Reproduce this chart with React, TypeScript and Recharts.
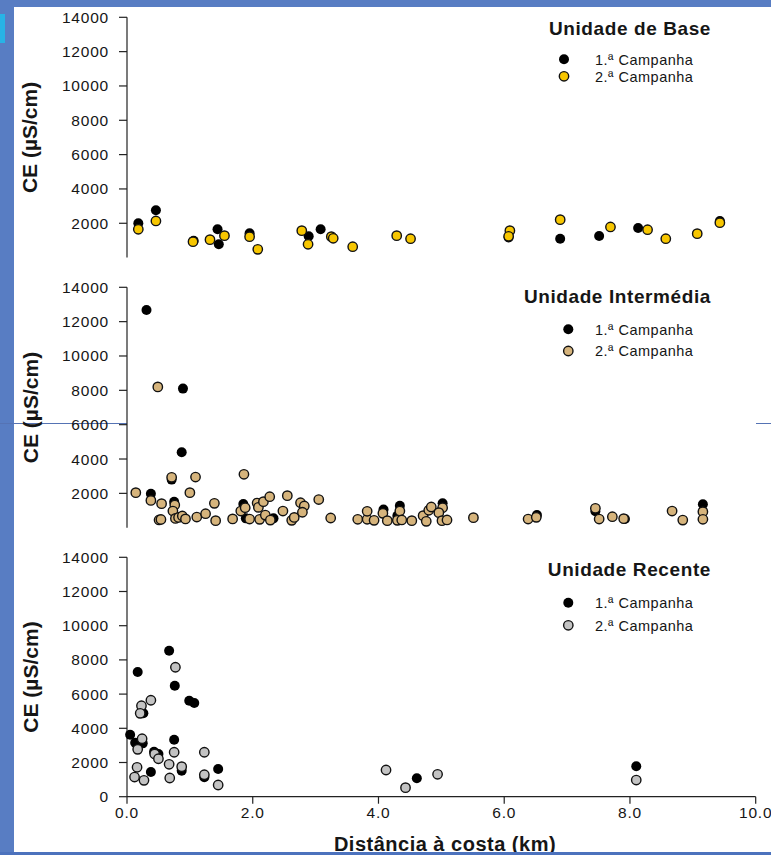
import React from 'react';
import { ScatterChart, Scatter, XAxis, YAxis, Legend } from 'recharts';

type Pt = { d: number; ce: number };
const pts = (rows: number[][]): Pt[] => rows.map(([d, ce]) => ({ d, ce }));

// distance to coast (km), CE (uS/cm)
const baseC1 = pts([
  [0.18, 2000], [0.46, 2760], [1.06, 980], [1.44, 1650], [1.46, 775], [1.95, 1415], [2.89, 1240],
  [3.08, 1650], [6.07, 1170], [6.89, 1100], [7.51, 1260], [8.13, 1725], [9.43, 2135],
]);
const baseC2 = pts([
  [0.18, 1650], [0.46, 2135], [1.05, 930], [1.32, 1045], [1.55, 1280], [1.95, 1220], [2.08, 480],
  [2.78, 1570], [2.88, 775], [3.25, 1220], [3.28, 1125], [3.59, 635], [4.29, 1280], [4.51, 1100],
  [6.09, 1570], [6.07, 1240], [6.89, 2210], [7.69, 1785], [8.28, 1625], [8.57, 1100], [9.07, 1395],
  [9.43, 2035],
]);

const interC1 = pts([
  [0.31, 12680], [0.89, 8100], [0.87, 4390], [0.38, 1970], [0.71, 2800], [0.75, 1515], [1.85, 1380],
  [1.89, 545], [2.33, 545], [4.08, 1065], [4.34, 1280], [4.3, 700], [5.02, 1420], [6.52, 740],
  [7.45, 955], [7.92, 505], [9.16, 1365],
]);
const interC2 = pts([
  [0.49, 8200], [0.14, 2040], [0.38, 1590], [0.55, 1400], [0.71, 2935], [1.09, 2950], [1.0, 2040],
  [1.86, 3110], [0.76, 1320], [0.73, 970], [0.51, 450], [0.54, 480], [0.77, 540], [0.82, 600],
  [0.88, 680], [0.93, 510], [1.11, 620], [1.25, 815], [1.39, 1420], [1.41, 410], [1.68, 510],
  [1.81, 970], [1.88, 1165], [1.95, 505], [2.07, 1435], [2.09, 1185], [2.17, 1515], [2.27, 1805],
  [2.11, 485], [2.2, 735], [2.28, 445], [2.48, 970], [2.55, 1865], [2.62, 430], [2.66, 600],
  [2.76, 1455], [2.82, 1265], [2.79, 900], [3.05, 1640], [3.24, 565], [3.67, 490], [3.82, 490],
  [3.93, 430], [3.82, 955], [4.07, 835], [4.14, 410], [4.34, 970], [4.3, 430], [4.37, 450],
  [4.53, 410], [4.71, 700], [4.76, 370], [4.8, 1015], [4.84, 1205], [5.02, 1165], [4.96, 875],
  [5.01, 410], [5.09, 450], [5.51, 585], [6.38, 505], [6.51, 605], [7.45, 1130], [7.51, 505],
  [7.72, 640], [7.9, 525], [8.67, 970], [8.84, 445], [9.16, 935], [9.16, 490],
]);

const recC1 = pts([
  [0.67, 8540], [0.17, 7290], [0.76, 6490], [0.99, 5610], [1.07, 5480], [0.05, 3625], [0.13, 3160],
  [0.25, 3120], [0.26, 4875], [0.75, 3335], [0.43, 2630], [0.5, 2500], [0.38, 1445], [0.87, 1520],
  [1.23, 1135], [1.45, 1620], [4.61, 1075], [8.1, 1780],
]);
const recC2 = pts([
  [0.77, 7570], [0.38, 5640], [0.23, 5320], [0.21, 4875], [0.24, 3390], [0.17, 2770], [0.44, 2500],
  [0.5, 2220], [0.75, 2600], [1.23, 2600], [0.67, 1895], [0.87, 1755], [0.16, 1720], [0.12, 1150],
  [0.27, 955], [0.68, 1095], [1.23, 1285], [1.45, 685], [4.12, 1560], [4.43, 530], [4.94, 1310],
  [8.1, 975],
]);

const yTicksFull = [0, 2000, 4000, 6000, 8000, 10000, 12000, 14000];
const yTicksTop = [2000, 4000, 6000, 8000, 10000, 12000, 14000];
const xTicks = [0, 2, 4, 6, 8, 10];
const campaigns = ['1.ª Campanha', '2.ª Campanha'];

const FONT = '"Liberation Sans", Arial, sans-serif';
const INK = '#161616';

const dot = (fill: string, outlined: boolean) => (props: any) => {
  const { cx, cy } = props;
  if (cx == null || cy == null) return <g />;
  return (
    <circle
      cx={cx}
      cy={cy}
      r={outlined ? 4.7 : 5}
      fill={fill}
      stroke={outlined ? '#111' : 'none'}
      strokeWidth={1.4}
    />
  );
};

type PanelProps = {
  top: number;
  height: number;
  mt: number;
  mb: number;
  title: string;
  c1: Pt[];
  c2: Pt[];
  fill2: string;
  yTicks: number[];
  showX?: boolean;
  titleY: number;
  rowY: [number, number];
  markerX: number;
};

function Panel(p: PanelProps) {
  const plotTop = p.mt;
  const plotBottom = p.height - p.mb - (p.showX ? 50 : 0);
  const fills = ['#000', p.fill2];

  const yLabel = (lp: any) => {
    const vb = lp.viewBox;
    const cy = vb && vb.height ? vb.y + vb.height / 2 : (plotTop + plotBottom) / 2;
    return (
      <text
        x={37.5}
        y={cy}
        transform={`rotate(-90 37.5 ${cy})`}
        textAnchor="middle"
        fontFamily={FONT}
        fontWeight="bold"
        fontSize={21}
        fill={INK}
      >
        CE (µS/cm)
      </text>
    );
  };

  const xLabel = () => (
    <text
      x={445}
      y={p.height - 4}
      textAnchor="middle"
      fontFamily={FONT}
      fontWeight="bold"
      fontSize={20}
      letterSpacing={0.5}
      fill={INK}
    >
      Distância à costa (km)
    </text>
  );

  const legend = () => (
    <svg width={281} height={100} style={{ display: 'block', overflow: 'visible' }}>
      <text
        x={711 - 490}
        y={p.titleY}
        textAnchor="end"
        fontFamily={FONT}
        fontWeight="bold"
        fontSize={19}
        letterSpacing={0.6}
        fill={INK}
      >
        {p.title}
      </text>
      {campaigns.map((name, i) => (
        <g key={name}>
          <circle
            cx={p.markerX - 490}
            cy={p.rowY[i]}
            r={i === 0 ? 5 : 4.7}
            fill={fills[i]}
            stroke={i === 0 ? 'none' : '#111'}
            strokeWidth={1.4}
          />
          <text
            x={595 - 490}
            y={p.rowY[i] + 5.2}
            fontFamily={FONT}
            fontSize={14.5}
            letterSpacing={0.5}
            fill={INK}
          >
            {name}
          </text>
        </g>
      ))}
    </svg>
  );

  const axisStroke = { stroke: '#222', strokeWidth: 1.2 };
  const tickStyle = { fill: INK, fontSize: 15.5, letterSpacing: 0.8, fontFamily: FONT };

  return (
    <div style={{ position: 'absolute', left: 0, top: p.top }}>
      <ScatterChart
        width={771}
        height={p.height}
        margin={{ top: p.mt, right: 15.3, bottom: p.mb, left: 0 }}
      >
        <XAxis
          type="number"
          dataKey="d"
          domain={[0, 10]}
          ticks={xTicks}
          hide={!p.showX}
          height={50}
          tickFormatter={(v: number) => v.toFixed(1)}
          axisLine={axisStroke}
          tickLine={axisStroke}
          tickSize={7}
          tickMargin={3}
          tick={tickStyle}
          label={p.showX ? { content: xLabel } : undefined}
        />
        <YAxis
          type="number"
          dataKey="ce"
          domain={[0, 14000]}
          ticks={p.yTicks}
          width={127}
          axisLine={axisStroke}
          tickLine={axisStroke}
          tickSize={8}
          tickMargin={10}
          tick={tickStyle}
          label={{ content: yLabel }}
        />
        <Legend
          layout="horizontal"
          verticalAlign="middle"
          align="center"
          wrapperStyle={{ left: 490, top: 0, width: 281, height: 100 }}
          content={legend}
        />
        <Scatter
          name={campaigns[0]}
          data={p.c1}
          fill="#000"
          shape={dot('#000', false)}
          isAnimationActive={false}
        />
        <Scatter
          name={campaigns[1]}
          data={p.c2}
          fill={p.fill2}
          shape={dot(p.fill2, true)}
          isAnimationActive={false}
        />
      </ScatterChart>
    </div>
  );
}

export default function App() {
  return (
    <div
      style={{
        position: 'absolute',
        left: 0,
        top: 0,
        width: 771,
        height: 855,
        background: '#587dc3',
        overflow: 'hidden',
        fontFamily: FONT,
      }}
    >
      <div style={{ position: 'absolute', left: 14, top: 7, right: 0, bottom: 0, background: '#fff' }} />
      <div style={{ position: 'absolute', left: 0, top: 14, width: 5, height: 29, background: '#27b3e6' }} />
      <div style={{ position: 'absolute', left: 0, top: 423, width: 127, height: 1, background: '#5573b4' }} />
      <div style={{ position: 'absolute', left: 756, top: 423, width: 15, height: 1, background: '#5573b4' }} />

      <Panel
        top={0}
        height={265}
        mt={17.3}
        mb={7.4}
        title="Unidade de Base"
        c1={baseC1}
        c2={baseC2}
        fill2="#f7c600"
        yTicks={yTicksTop}
        titleY={35}
        rowY={[59.3, 76.3]}
        markerX={564}
      />
      <Panel
        top={265}
        height={270}
        mt={22.3}
        mb={7.3}
        title="Unidade Intermédia"
        c1={interC1}
        c2={interC2}
        fill2="#d6b47c"
        yTicks={yTicksFull}
        titleY={38.3}
        rowY={[64.3, 86]}
        markerX={568.3}
      />
      <Panel
        top={535}
        height={320}
        mt={22.3}
        mb={8.3}
        showX
        title="Unidade Recente"
        c1={recC1}
        c2={recC2}
        fill2="#c3c3c3"
        yTicks={yTicksFull}
        titleY={41}
        rowY={[67.7, 90.3]}
        markerX={568.3}
      />

      <div style={{ position: 'absolute', left: 0, top: 852, width: 771, height: 3, background: '#4c72bd' }} />
    </div>
  );
}
